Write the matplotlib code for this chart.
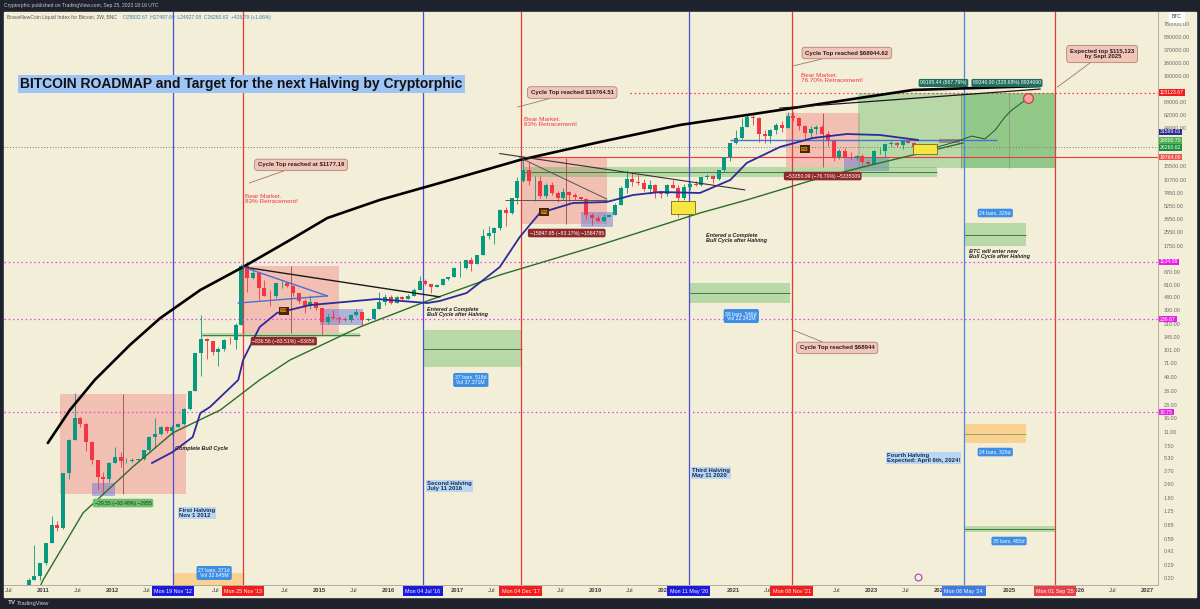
import datetime as dt
import matplotlib.pyplot as plt
import numpy as np

plt.rcParams['font.family'] = ['Liberation Sans', 'DejaVu Sans']

##### Price data: monthly candles of the BNC index, Jul 2010 - Sep 2023 #####
first_month = 2010.5
first_open = 0.05
closes = [0.07, 0.06, 0.06, 0.19, 0.21, 0.30,                                  # 2010
          0.52, 0.86, 0.78, 3.5, 8.7, 16.1, 13.4, 8.2, 5.1, 3.2, 3.0, 4.7,     # 2011
          5.5, 4.9, 4.9, 5.0, 5.2, 6.7, 9.4, 10.2, 12.4, 11.2, 12.6, 13.5,     # 2012
          20.4, 33.4, 93, 139, 129, 97, 106, 135, 133, 204, 1000, 730,         # 2013
          830, 550, 450, 445, 630, 640, 585, 480, 387, 338, 378, 320,          # 2014
          217, 254, 244, 236, 230, 263, 284, 230, 236, 314, 377, 430,          # 2015
          368, 437, 416, 448, 531, 673, 624, 575, 609, 700, 742, 963,          # 2016
          970, 1190, 1080, 1350, 2300, 2480, 2875, 4700, 4340, 6470, 10200, 14100,
          10200, 10300, 6900, 9240, 7500, 6400, 7730, 7030, 6630, 6370, 4020, 3740,
          3460, 3850, 4100, 5350, 8570, 10820, 10080, 9630, 8290, 9200, 7570, 7190,
          9350, 8540, 6440, 8660, 9460, 9140, 11350, 11680, 10780, 13800, 19700, 28950,
          33100, 45200, 58800, 57700, 37300, 35000, 41500, 47100, 43800, 61300, 57000, 46300,
          38500, 43200, 45500, 37700, 31800, 19900, 23300, 20050, 19420, 20500, 17170, 16540,
          23130, 23150, 28470, 29250, 27220, 30480, 29230, 25940, 26260.62]
highs = [0.10, 0.07, 0.07, 0.20, 0.50, 0.30,
         0.52, 1.10, 0.95, 3.5, 9.0, 31.9, 16.5, 14.0, 8.5, 5.0, 3.6, 4.8,
         7.2, 6.3, 5.4, 5.3, 5.2, 6.7, 9.7, 16.0, 12.8, 12.8, 13.3, 13.9,
         20.7, 33.6, 95, 266, 140, 130, 112, 139, 146, 215, 1060, 1010,
         960, 850, 690, 530, 630, 680, 640, 600, 490, 410, 460, 380,
         320, 270, 300, 260, 250, 270, 315, 285, 245, 325, 500, 465,
         460, 440, 440, 470, 550, 780, 705, 625, 615, 720, 750, 975,
         1150, 1200, 1290, 1360, 2760, 2980, 2920, 4760, 5000, 6480, 11400, 19500,
         17200, 11800, 11700, 9740, 9980, 7760, 8470, 7760, 7400, 6750, 6550, 4300,
         4100, 4200, 4140, 5620, 9080, 13900, 13150, 12300, 10920, 10500, 9500, 7750,
         9580, 10500, 9200, 9450, 10080, 10380, 11450, 12480, 12070, 14100, 19800, 29300,
         41900, 58300, 61700, 64800, 59500, 41300, 42300, 50500, 52900, 67000, 67500, 59000,
         47900, 45800, 48200, 47400, 40000, 31900, 24600, 25200, 22800, 21000, 21400, 18400,
         23950, 25250, 29200, 31000, 29800, 31400, 31800, 30200, 27487.69]
lows = [0.05, 0.06, 0.06, 0.06, 0.19, 0.19,
        0.29, 0.52, 0.72, 0.77, 3.0, 8.7, 12.5, 6.5, 4.5, 2.3, 2.0, 2.8,
        4.7, 4.2, 4.7, 4.8, 4.9, 5.1, 6.5, 7.1, 9.9, 10.5, 10.1, 12.6,
        13.2, 19.6, 33, 50, 80, 89, 65, 99, 119, 104, 200, 500,
        700, 400, 440, 340, 420, 560, 570, 440, 370, 280, 310, 300,
        152, 210, 237, 215, 227, 220, 255, 195, 225, 235, 310, 350,
        355, 370, 400, 415, 440, 530, 605, 480, 570, 605, 690, 740,
        750, 920, 890, 1060, 1360, 2100, 1840, 2700, 2980, 4150, 5550, 10000,
        9200, 6000, 6500, 6430, 7000, 5780, 6070, 5880, 6130, 6130, 3650, 3120,
        3380, 3400, 3850, 4080, 5330, 7500, 9100, 9300, 7900, 7300, 6500, 6430,
        6860, 8450, 3850, 6150, 8120, 8900, 9000, 10950, 9880, 10550, 13200, 17600,
        28100, 32300, 45000, 47000, 30000, 28800, 29300, 37300, 39600, 43300, 53300, 42000,
        32900, 34300, 37200, 37600, 26700, 17600, 18800, 19600, 18200, 18200, 15500, 16300,
        16500, 21400, 19600, 26900, 25800, 24800, 28900, 25200, 24927.08]

##### Drawn overlays (decimal year, price) #####
ma_time = [2012.58, 2012.88, 2013.17, 2013.28, 2013.42, 2013.83, 2013.90, 2014.14, 2014.39,
           2014.87, 2015.84, 2016.57, 2016.75, 2017.14, 2017.62, 2017.91, 2018.20, 2018.68,
           2019.17, 2019.55, 2019.94, 2020.52, 2020.96, 2021.20, 2021.68, 2022.16, 2022.65,
           2023.13, 2023.68]
ma_price = [4.66, 6.29, 9.47, 18.2, 21.5, 45, 77.6, 191, 280, 348, 410, 368, 389, 484, 984,
            2235, 4300, 5650, 5810, 7030, 7630, 7430, 10600, 16900, 26100, 33400, 37200,
            36200, 31600]
support_time = [2010.85, 2011.0, 2011.58, 2012.30, 2012.88, 2013.57, 2014.14, 2014.58, 2015.59,
                2016.57, 2017.62, 2019.07, 2020.52, 2021.20, 2022.16, 2022.88, 2023.61, 2024.33]
support_price = [0.10, 0.19, 1.19, 4.18, 10.6, 19.8, 45, 77.6, 191, 389, 791, 1795, 4300,
                 6140, 10600, 15100, 21000, 29100]
arc_time = [2011.07, 2011.39, 2011.75, 2012.26, 2012.70, 2013.28, 2013.90, 2014.58, 2015.12,
            2015.88, 2016.75, 2017.91, 2019.07, 2020.23, 2021.20, 2022.16, 2023.61, 2025.45]
arc_price = [8.04, 19.8, 45, 117, 244, 525, 984, 2055, 3750, 6140, 9760, 18300, 29900, 47600,
             62500, 82200, 124000, 138000]
path_time = [2023.96, 2024.22, 2024.46, 2024.65, 2024.80, 2024.94, 2025.04, 2025.16, 2025.28]
path_price = [26100, 29900, 35200, 32500, 41500, 59200, 71600, 84500, 99500]

halving_dates = ['2012-11-19', '2016-07-04', '2020-05-11', '2024-05-06']
top_dates = ['2013-11-25', '2017-12-04', '2021-11-08', '2025-09-01']

magenta_levels = [1134.08, 236.67, 18.75]
target_price = 115123.67
last_close = 26260.62
top_2017 = 19764.00
blue_level = 31599.01
green_level = 26800.70

# scale labels; the ones hidden under the price tags are left out
price_ticks = [760000, 530000, 370000, 260000, 180000, 88000, 62000, 44000,
               15500, 10700, 7450, 5250, 3650, 2550, 1750, 870, 610, 430, 300,
               210, 145, 101, 71, 49, 33, 23, 16, 11, 7.5, 5.3, 3.7, 2.6, 1.8, 1.25, 0.85,
               0.59, 0.42, 0.29, 0.20]

# (start, end, low, high)
red_boxes = [(2011.25, 2013.07, 2.0, 30.7), (2013.88, 2015.29, 162, 1010),
             (2017.93, 2019.17, 3190, 19500), (2021.77, 2022.84, 15100, 66100)]
blue_boxes = [(2011.71, 2012.04, 1.89, 2.70), (2015.01, 2015.64, 202, 313),
              (2018.80, 2019.26, 2940, 4410), (2022.61, 2023.26, 13500, 19900)]
green_boxes = [(2022.81, 2025.67, 14700, target_price), (2024.30, 2025.67, 14700, target_price),
               (2017.95, 2023.95, 11500, 15100), (2013.30, 2015.59, 146, 162),
               (2016.51, 2017.94, 64, 176), (2020.38, 2021.83, 368, 635),
               (2024.35, 2025.25, 1745, 3270), (2024.35, 2025.67, 0.708, 0.833)]
orange_boxes = [(2012.88, 2013.90, 0.12, 0.23), (2024.35, 2025.25, 8.03, 13.5)]
yellow_boxes = [(2020.10, 2020.45, 4190, 5970), (2023.61, 2023.96, 21600, 28300)]
measure_drops = [(2012.16, 30.7, 2.0), (2014.59, 1010, 162), (2018.58, 19500, 3190),
                 (2022.30, 66100, 15100)]


def dyear(s):
    d = dt.date.fromisoformat(s)
    start = dt.date(d.year, 1, 1)
    n = (dt.date(d.year + 1, 1, 1) - start).days
    return d.year + (d - start).days / n


W, H = 1200, 609
bg = '#f3eed8'
fig = plt.figure(figsize=(12, 6.09), dpi=100, facecolor='#1e222d')
fig.patches.append(plt.Rectangle((4 / W, 1 - 597 / H), 1192 / W, 585 / H,
                                 transform=fig.transFigure, color=bg, zorder=-10))
ax = fig.add_axes([4 / W, 1 - 585 / H, 1154 / W, 573 / H])
ax.set_facecolor(bg)
ax.set_yscale('log')
ax.set_xlim(2010.435, 2027.159)
ax.set_ylim(0.1663, 1.042e6)
for s in ['top', 'left']:
    ax.spines[s].set_visible(False)
for s in ['right', 'bottom']:
    ax.spines[s].set_color('#a8a496')
    ax.spines[s].set_linewidth(0.6)

##### Axes ticks #####
marked = [dyear(d) for d in halving_dates + top_dates]
xt = np.arange(2010.5, 2027.01, 0.5)
xl = []
for v in xt:
    if min(abs(v - m) for m in marked) < 0.25:
        xl.append('')   # sits under a date box
    else:
        xl.append('Jul' if v % 1 else str(int(v)))
ax.set_xticks(xt, xl)
for lab in ax.get_xticklabels():
    if lab.get_text() != 'Jul':
        lab.set_fontweight('bold')
ax.tick_params(axis='x', length=0, pad=2.2, labelsize=4.2, labelcolor='#3c3c3c')
ax.yaxis.tick_right()
ax.yaxis.set_minor_locator(plt.NullLocator())
ax.set_yticks(price_ticks, [f'{v:.2f}' for v in price_ticks])
ax.tick_params(axis='y', length=0, pad=4, labelsize=3.9, labelcolor='#6a6a6a')

##### Shaded boxes #####
for t0, t1, lo, hi in red_boxes:
    ax.fill_between([t0, t1], lo, hi, color='#f23645', alpha=0.25, lw=0, zorder=1)
ax.fill_between([2023.99, 2024.29], 29500, 32400, color='#e05a5a', alpha=0.8, lw=0, zorder=1)
for t0, t1, lo, hi in blue_boxes:
    ax.fill_between([t0, t1], lo, hi, color='#6f78d6', alpha=0.5, lw=0, zorder=1)
for t0, t1, lo, hi in green_boxes:
    ax.fill_between([t0, t1], lo, hi, color='#4caf50', alpha=0.35, lw=0, zorder=1)
    if hi / lo < 3:
        ax.hlines(np.sqrt(lo * hi), t0, t1, color='#2e6b2e', lw=0.6, zorder=1.5)
for t0, t1, lo, hi in orange_boxes:
    ax.fill_between([t0, t1], lo, hi, color='#ffb74d', alpha=0.5, lw=0, zorder=1)
    ax.hlines(np.sqrt(lo * hi), t0, t1, color='#8a9a60', lw=0.6, zorder=1.5)
for t0, t1, lo, hi in yellow_boxes:
    ax.fill_between([t0, t1], lo, hi, color='#f5e642', lw=0.6, edgecolor='#7a6a10', zorder=6)
for t, hi, lo in measure_drops:
    ax.vlines(t, lo, hi, color='#9b4a44', lw=0.6, zorder=1.5)
ax.vlines([2024.30, 2025.0], 14700, target_price, color='#8a9a80', lw=0.6, zorder=1.5)

##### Vertical and horizontal lines #####
for i, d in enumerate(halving_dates):
    ax.axvline(dyear(d), color='#4a86e8' if i == 3 else '#4b4bd8', lw=0.9, zorder=2)
for d in top_dates:
    ax.axvline(dyear(d), color='#e53935', lw=0.9, zorder=2)
for p in magenta_levels:
    ax.axhline(p, color='#e040fb', lw=0.9, ls=(0, (1.2, 2.2)), zorder=2)
ax.hlines(target_price, 2019.5, 2027.159, color='#f23645', lw=0.9, ls=(0, (1.2, 2.2)), zorder=2)
ax.axhline(last_close, color='#6a6a6a', lw=0.6, ls=(0, (1.2, 2.2)), zorder=2)
ax.hlines(top_2017, dyear(top_dates[1]), 2027.159, color='#f23645', lw=0.8, zorder=2)
ax.hlines(blue_level, 2020.96, 2024.82, color='#4a6fd1', lw=1.0, zorder=5)

##### Candles #####
t = first_month + (np.arange(len(closes)) + 0.5) / 12
c = np.array(closes)
o = np.array([first_open] + closes[:-1])
cols = np.where(c >= o, '#089981', '#f23645')
ax.vlines(t, lows, highs, color=cols, lw=0.6, zorder=4)
ax.bar(t, np.abs(c - o), bottom=np.minimum(o, c), width=0.055, color=cols, zorder=4)

##### Curves and trend lines #####
ax.plot(arc_time, arc_price, color='black', lw=1.9, zorder=5, solid_capstyle='round',
        solid_joinstyle='round')
ax.plot([2021.68, 2025.45], [75500, 127000], color='#1a1a1a', lw=0.9, zorder=5)
ax.plot(support_time, support_price, color='#2b6d2b', lw=1.0, zorder=5)
ax.plot(ma_time, ma_price, color='#2e2a9c', lw=1.3, zorder=5, solid_joinstyle='round')
ax.plot([2013.90, 2016.75], [984, 435], color='#1a1a1a', lw=1.0, zorder=5)
ax.plot([2013.90, 2015.12], [984, 447], color='#4a6fd1', lw=1.0, zorder=5)
ax.plot([2013.83, 2015.12], [368, 447], color='#4a6fd1', lw=1.0, zorder=5)
ax.plot([2017.62, 2021.17], [21800, 8090], color='#333333', lw=0.8, zorder=5)
ax.plot([2017.91, 2019.17], [19500, 6300], color='#555555', lw=0.7, zorder=5)
ax.hlines(6140, 2017.70, 2019.17, color='#555555', lw=0.7, zorder=5)
ax.plot(path_time, path_price, color='#1e5631', lw=0.7, zorder=6)
ax.plot(2025.28, 100000, 'o', ms=7, mfc='#f4a3a3', mec='#d32f2f', mew=0.8, zorder=7)
ax.plot(2023.68, 0.207, 'o', ms=5, mfc='none', mec='#9c27b0', mew=0.7, zorder=7, clip_on=False)

##### Text and labels #####
ax.text(2010.67, 146000, 'BITCOIN ROADMAP and Target for the next Halving by Cryptorphic',
        fontsize=10, fontweight='bold', color='#111111', va='center', zorder=9,
        bbox=dict(boxstyle='square,pad=0.15', fc='#9ec5f5', ec='none'))


def callout(tx, tp, s, px, pp):
    ax.annotate(s, xy=(px, pp), xytext=(tx, tp), fontsize=4.3, fontweight='bold', color='#222222',
                ha='center', va='center', zorder=9,
                bbox=dict(boxstyle='round,pad=0.55', fc='#f3c4b8', ec='#a0756a', lw=0.5),
                arrowprops=dict(arrowstyle='-', color='#a0756a', lw=0.6, shrinkA=0, shrinkB=0))


callout(2014.74, 16000, 'Cycle Top reached at $1177.19', 2013.99, 9760)
callout(2018.67, 115500, 'Cycle Top reached $19764.51', 2017.88, 77800)
callout(2022.65, 340000, 'Cycle Top reached $68944.62', 2021.86, 238000)
callout(2026.35, 331000, 'Expected top $115,123\n by Sept 2025', 2025.70, 134000)
callout(2022.51, 108, 'Cycle Top reached $68944', 2021.87, 176)

for tx, tp, s in [(2013.93, 7230, 'Bear Market.\n83% Retracement!'),
                  (2017.97, 59300, 'Bear Market.\n83% Retracement!'),
                  (2021.99, 197000, 'Bear Market.\n76.70% Retracement!')]:
    ax.text(tx, tp, s, fontsize=4.6, color='#f23645', va='top', ha='left', zorder=9,
            linespacing=1.0)

for tx, tp, s in [(2012.97, 1.36, 'First Halving\nNov 1 2012'),
                  (2016.57, 2.85, 'Second Halving\nJuly 11 2016'),
                  (2020.41, 4.06, 'Third Halving\nMay 11 2020'),
                  (2023.23, 6.13, 'Fourth Halving\nExpected: April 6th, 2024!')]:
    ax.text(tx, tp, s, fontsize=4.3, fontweight='bold', color='#1a2a5a', va='top', ha='left',
            linespacing=1.0, zorder=9, bbox=dict(boxstyle='square,pad=0.15', fc='#b9d7f0', ec='none'))

for tx, tp, s in [(2012.91, 7.0, 'Complete Bull Cycle'),
                  (2016.57, 330, 'Entered a Complete\nBull Cycle after Halving'),
                  (2020.61, 2490, 'Entered a Complete\nBull Cycle after Halving'),
                  (2024.42, 1610, 'BTC will enter new\nBull Cycle after Halving')]:
    ax.text(tx, tp, s, fontsize=4, fontweight='bold', fontstyle='italic', color='#222222',
            va='top' if '\n' in s else 'center', ha='left', linespacing=1.0, zorder=9)


def tag(tx, tp, s, fc, tc='white', fs=3.7, pad=0.35):
    ax.text(tx, tp, s, fontsize=fs, color=tc, ha='center', va='center', zorder=9,
            linespacing=1.1, bbox=dict(boxstyle=f'round,pad={pad}', fc=fc, ec='none'))


tag(2013.48, 0.231, '27 bars, 371d\nVol 32.645M', '#3d8fe6')
tag(2017.20, 45, '37 bars, 518d\nVol 37.371M', '#3d8fe6')
tag(2021.12, 258, '39 bars, 546d\nVol 22.342M', '#3d8fe6')
tag(2024.80, 4300, '24 bars, 329d', '#3d8fe6')
tag(2024.80, 6.28, '24 bars, 329d', '#3d8fe6')
tag(2025.00, 0.553, '35 bars, 483d', '#3d8fe6')
tag(2014.49, 130, '\u2212836.56 (\u221283.51%) \u221283656', '#8e2a2a')
tag(2018.59, 2490, '\u221215847.85 (\u221283.17%) \u22121584785', '#8e2a2a')
tag(2022.30, 11800, '\u221253350.09 (\u221276.70%) \u22125335009', '#8e2a2a')
tag(2012.16, 1.56, '\u221229.55 (\u221293.48%) \u22122955', '#6cbf6c', tc='#1b3b1b')
# the second measure label covers the tail of the first one
tag(2024.05, 150000, '99195.44 (667.79%)', '#1f6e5e', pad=0.3)
tag(2024.97, 150000, '89346.90 (328.68%) 8934690', '#1f6e5e', pad=0.3)
for tx, tp, s in [(2014.49, 296, 'B1'), (2018.26, 4410, 'B2'), (2022.04, 24700, 'B3')]:
    ax.text(tx, tp, s, fontsize=4.2, fontweight='bold', color='#f0a030', ha='center', va='center',
            zorder=9, bbox=dict(boxstyle='square,pad=0.25', fc='#4d2600', ec='none'))

##### Date boxes on the time axis #####
xt_tr = ax.get_xaxis_transform()
for i, d in enumerate(halving_dates + top_dates):
    day = dt.date.fromisoformat(d)
    if i < 4:
        fc = '#3f7be0' if i == 3 else '#1b1be0'
    else:
        fc = '#e8404a' if i == 7 else '#f21d1d'
    ax.text(dyear(d), -0.0105, day.strftime("%a %d %b '%y"), transform=xt_tr, fontsize=3.9,
            color='white', ha='center', va='center', clip_on=False, zorder=10,
            bbox=dict(boxstyle='square,pad=0.45', fc=fc, ec='none'))

##### Price tags on the price axis #####
yt_tr = ax.get_yaxis_transform()


def price_tag(p, s, fc, dy=0):
    ax.annotate(s, xy=(1.0, p), xycoords=yt_tr, xytext=(1.5, dy), textcoords='offset points',
                fontsize=3.7, color='white', ha='left', va='center', zorder=10,
                annotation_clip=False, bbox=dict(boxstyle='square,pad=0.15', fc=fc, ec='none'))


price_tag(target_price, f'{target_price:.2f}', '#f01e1e')
price_tag(blue_level, f'{blue_level:.2f}', '#2a2d8f', dy=5.9)
price_tag(green_level, f'{green_level:.2f}', '#4caf50', dy=4.1)
price_tag(last_close, f'{last_close:.2f}', '#1f8f3a', dy=-0.6)
price_tag(top_2017, f'{top_2017:.2f}', '#ef5350')
for p in magenta_levels:
    price_tag(p, f'{p:.2f}', '#e91ee8')

##### Header and footer #####
fig.text(4 / W, 1 - 6 / H, 'Cryptorphic published on TradingView.com, Sep 25, 2023 18:16 UTC',
         fontsize=3.6, color='#c8c8c8', va='center')
fig.text(7 / W, 1 - 17 / H, 'BraveNewCoin Liquid Index for Bitcoin, 2W, BNC', fontsize=3.6,
         color='#555555', va='center')
fig.text(123 / W, 1 - 17 / H, 'O25832.67  H27487.69  L24927.08  C26260.62  +426.79 (+1.66%)',
         fontsize=3.6, color='#3a7bbf', va='center')
fig.text(1177 / W, 1 - 17 / H, 'BTC', fontsize=3.6, color='#333333', ha='center', va='center',
         bbox=dict(boxstyle='square,pad=0.6', fc='white', ec='none'))
fig.text(8 / W, 1 - 603 / H, 'TV', fontsize=4.5, fontweight='bold', color='#d0d0d0', va='center')
fig.text(17 / W, 1 - 603 / H, 'TradingView', fontsize=4.2, color='#d0d0d0', va='center')

fig.savefig('out.png', dpi=100, facecolor=fig.get_facecolor())
